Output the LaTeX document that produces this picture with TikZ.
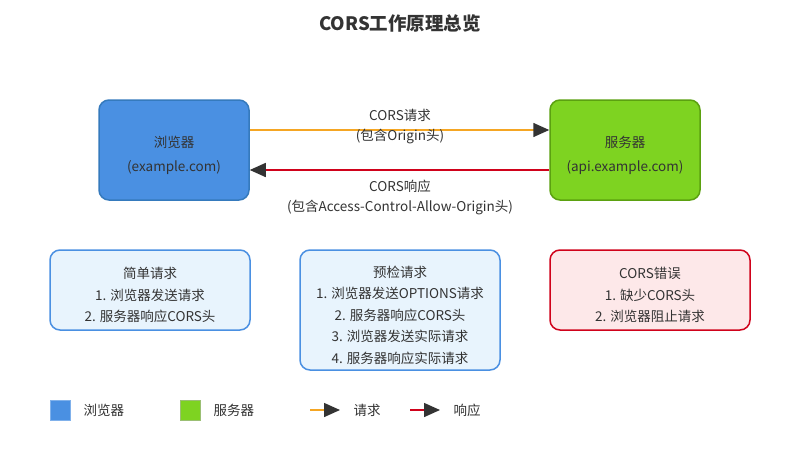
\documentclass[tikz,border=0pt]{standalone}
\usepackage{fontspec}
\setmainfont{Noto Sans CJK SC}
\usetikzlibrary{arrows.meta}
\definecolor{txt}{RGB}{51,51,51}
\definecolor{browserblue}{RGB}{74,144,226}
\definecolor{browserline}{RGB}{53,122,189}
\definecolor{servergreen}{RGB}{126,211,33}
\definecolor{serverline}{RGB}{91,161,16}
\definecolor{reqorange}{RGB}{245,166,35}
\definecolor{resred}{RGB}{208,2,27}
\definecolor{lightblue}{RGB}{232,244,253}
\definecolor{lightred}{RGB}{253,232,233}
\tikzset{
	tip/.style={-{Triangle[length=16pt,width=14pt,color=txt]}},
	endpoint/.style={rectangle, rounded corners=10pt, line width=1.5pt, minimum width=150pt, minimum height=100pt, text=txt},
	infobox/.style={rectangle, rounded corners=10pt, line width=1.5pt, minimum width=200pt, text=txt},
	boxtext/.style={text=txt, align=center, yshift=-5pt, font=\fontsize{13.5}{21.5}\selectfont},
	endtext/.style={text=txt, align=center, yshift=-5pt, font=\fontsize{13.5}{24}\selectfont},
	lbl/.style={text=txt, align=center, font=\fontsize{13.5}{20}\selectfont},
	swatch/.style={rectangle, minimum size=20pt, inner sep=0pt, line width=0.8pt}
}
\begin{document}
\begin{tikzpicture}[x=1pt, y=-1pt]
	\useasboundingbox[fill=white] (0,0) rectangle (800,450);

	\node[text=txt, font=\fontsize{18.5}{22}\selectfont\bfseries] (title) at (400,23) {CORS工作原理总览};

	% endpoints
	\node[endpoint, fill=browserblue, draw=browserline, label={[endtext]center:浏览器\\(example.com)}] (browser) at (174,150) {};
	\node[endpoint, fill=servergreen, draw=serverline, label={[endtext]center:服务器\\(api.example.com)}] (server) at (625,150) {};

	\draw[tip, reqorange, line width=1.5pt] ([yshift=20pt]browser.east) -- ([yshift=20pt]server.west);
	\node[lbl] (reqlbl) at (400,127) {CORS请求\\(包含Origin头)};
	\draw[tip, resred, line width=1.5pt] ([yshift=-20pt]server.west) -- ([yshift=-20pt]browser.east);
	\node[lbl] (reslbl) at (400,197) {CORS响应\\(包含Access-Control-Allow-Origin头)};

	% info boxes
	\node[infobox, fill=lightblue, draw=browserblue, minimum height=80pt, label={[boxtext]center:简单请求\\1. 浏览器发送请求\\2. 服务器响应CORS头}] (simple) at (150,290) {};
	\node[infobox, fill=lightblue, draw=browserblue, minimum height=120pt, label={[boxtext]center:预检请求\\1. 浏览器发送OPTIONS请求\\2. 服务器响应CORS头\\3. 浏览器发送实际请求\\4. 服务器响应实际请求}] (preflight) at (400,310) {};
	\node[infobox, fill=lightred, draw=resred, minimum height=80pt, label={[boxtext]center:CORS错误\\1. 缺少CORS头\\2. 浏览器阻止请求}] (error) at (650,290) {};

	% legend
	\node[swatch, fill=browserblue, draw=browserblue!70] (legbrowser) at (60,410) {};
	\node[lbl, anchor=west] (legbrowsertxt) at (80,410) {浏览器};
	\node[swatch, fill=servergreen, draw=servergreen!70!black!60] (legserver) at (190,410) {};
	\node[lbl, anchor=west] (legservertxt) at (210,410) {服务器};
	\coordinate (legreqA) at (310,410);
	\coordinate (legreqB) at (340,410);
	\draw[tip, reqorange, line width=1.5pt] (legreqA) -- (legreqB);
	\node[lbl, anchor=west] (legreqtxt) at (350,410) {请求};
	\coordinate (legresA) at (410,410);
	\coordinate (legresB) at (440,410);
	\draw[tip, resred, line width=1.5pt] (legresA) -- (legresB);
	\node[lbl, anchor=west] (legrestxt) at (450,410) {响应};

\end{tikzpicture}
\end{document}
